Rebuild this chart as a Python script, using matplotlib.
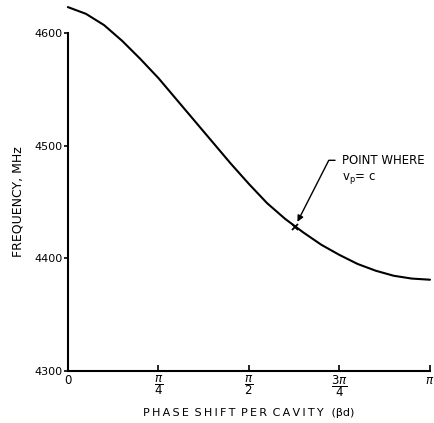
import numpy as np
import matplotlib
matplotlib.use("Agg")
import matplotlib.pyplot as plt

# Data (phase shift as fraction of pi, frequency in MHz)
phase_frac = [0.00, 0.05, 0.10, 0.15, 0.20, 0.25, 0.30, 0.35, 0.40, 0.45,
              0.50, 0.55, 0.60, 0.65, 0.70, 0.75, 0.80, 0.85, 0.90, 0.95, 1.00]
freq_mhz = [4623, 4617, 4607, 4593, 4577, 4560, 4541, 4522, 4503, 4484,
            4466, 4449, 4435, 4423, 4412, 4403, 4395, 4389, 4384.5, 4382, 4381]

vpc_frac = 0.627
vpc_freq = 4428

xtick_frac = [0, 0.25, 0.5, 0.75, 1.0]
xtick_labels = ["0", r"$\dfrac{\pi}{4}$", r"$\dfrac{\pi}{2}$", r"$\dfrac{3\pi}{4}$", r"$\pi$"]
ytick_vals = [4300, 4400, 4500, 4600]
ytick_labels = ["4300", "4400", "4500", "4600"]

plt.rcParams['font.family'] = ['DejaVu Sans']
plt.rcParams['mathtext.fontset'] = 'dejavusans'

fig = plt.figure(figsize=(4.35, 4.23), dpi=100)
ax = fig.add_axes([0.156, 0.123, 0.8325, 0.799])

x = np.array(phase_frac) * np.pi
ax.plot(x, freq_mhz, color='black', lw=1.5, clip_on=False,
        solid_capstyle='round', solid_joinstyle='round')
ax.plot([vpc_frac * np.pi], [vpc_freq], marker='x', color='black', ms=5, mew=1.3,
        clip_on=False)

ax.set_xlim(0, np.pi)
ax.set_ylim(4300, 4600)

ax.set_xticks(np.array(xtick_frac) * np.pi)
ax.set_xticklabels(xtick_labels, fontsize=8.5)
ax.set_yticks(ytick_vals)
ax.set_yticklabels(ytick_labels, fontsize=8)

ax.tick_params(axis='x', direction='in', length=4, width=1.2, pad=2)
ax.tick_params(axis='y', direction='out', length=3, width=1.2, pad=1)

for s in ['top', 'right']:
    ax.spines[s].set_visible(False)
for s in ['left', 'bottom']:
    ax.spines[s].set_linewidth(1.5)
    ax.spines[s].set_color('black')

ax.set_xlabel("P H A S E   S H I F T   P E R   C A V I T Y    (βd)".replace("   ", "\u2002").replace(" ", "\u2009"),
              fontsize=8, labelpad=6)
ax.set_ylabel("FREQUENCY, MHz", fontsize=9, labelpad=7)

ax.annotate("POINT WHERE", xy=(vpc_frac * np.pi, vpc_freq),
            xytext=(0.757 * np.pi, 4487), textcoords='data',
            fontsize=8.5, ha='left', va='center', annotation_clip=False,
            arrowprops=dict(arrowstyle='-|>', color='black', lw=1.0,
                            shrinkA=3, shrinkB=4, mutation_scale=9,
                            connectionstyle='angle,angleA=0,angleB=63,rad=0'))
ax.text(0.757 * np.pi, 4471, r"v$_\mathregular{p}$= c", fontsize=8.5, ha='left', va='center')

fig.savefig("out.png", dpi=100, facecolor='white')
